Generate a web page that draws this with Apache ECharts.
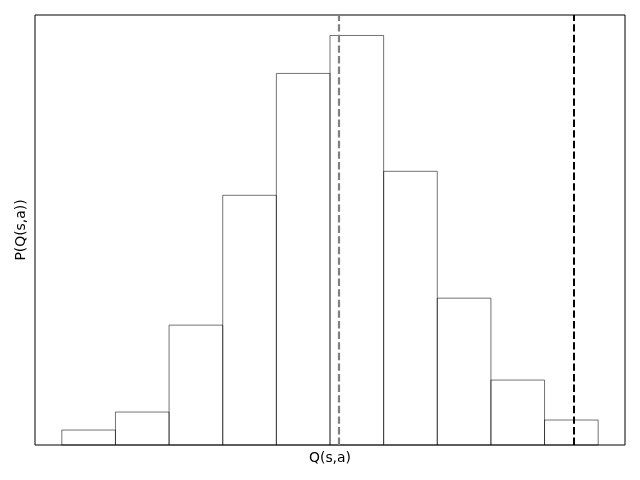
<!DOCTYPE html>
<html>
<head>
<meta charset="utf-8">
<script src="https://cdn.jsdelivr.net/npm/echarts@6/dist/echarts.min.js"></script>
<style>html,body{margin:0;padding:0;background:#fff}#c{width:640px;height:480px}</style>
</head>
<body>
<div id="c"></div>
<script>
var binEdges = [0, 1, 2, 3, 4, 5, 6, 7, 8, 9, 10];
var counts = [15, 33, 120, 250, 372, 410, 274, 147, 65, 25];
var meanLine = 5.168;
var maxLine = 9.55;

var bars = counts.map(function (c, i) { return [binEdges[i], binEdges[i + 1], c]; });
var chart = echarts.init(document.getElementById('c'));
chart.setOption({
  animation: false,
  grid: { left: 35, right: 15, top: 15, bottom: 35, show: true, borderColor: '#000', borderWidth: 1, backgroundColor: 'transparent' },
  xAxis: {
    type: 'value', min: -0.5, max: 10.5,
    name: 'Q(s,a)', nameLocation: 'middle', nameGap: 6,
    nameTextStyle: { fontFamily: 'DejaVu Sans', fontSize: 13.9, color: '#000' },
    axisLine: { show: false }, axisTick: { show: false }, axisLabel: { show: false }, splitLine: { show: false }
  },
  yAxis: {
    type: 'value', min: 0, max: 430.5,
    name: 'P(Q(s,a))', nameLocation: 'middle', nameGap: 7,
    nameTextStyle: { fontFamily: 'DejaVu Sans', fontSize: 13.9, color: '#000' },
    axisLine: { show: false }, axisTick: { show: false }, axisLabel: { show: false }, splitLine: { show: false }
  },
  series: [{
    type: 'custom',
    data: bars,
    renderItem: function (params, api) {
      var p0 = api.coord([api.value(0), 0]);
      var p1 = api.coord([api.value(1), api.value(2)]);
      return {
        type: 'rect',
        shape: { x: p0[0], y: p1[1], width: p1[0] - p0[0], height: p0[1] - p1[1] },
        style: { fill: 'none', stroke: 'rgba(0,0,0,0.55)', lineWidth: 1 }
      };
    },
    markLine: {
      symbol: 'none', silent: true, label: { show: false },
      lineStyle: { width: 2, type: [7.4, 3.2], opacity: 1 },
      data: [
        { xAxis: meanLine, lineStyle: { color: '#808080', width: 2.2, type: [7.4, 3.2], opacity: 1 } },
        { xAxis: maxLine, lineStyle: { color: '#000', width: 2, type: [7.4, 3.2], opacity: 1 } }
      ]
    }
  }]
});
</script>
</body>
</html>
